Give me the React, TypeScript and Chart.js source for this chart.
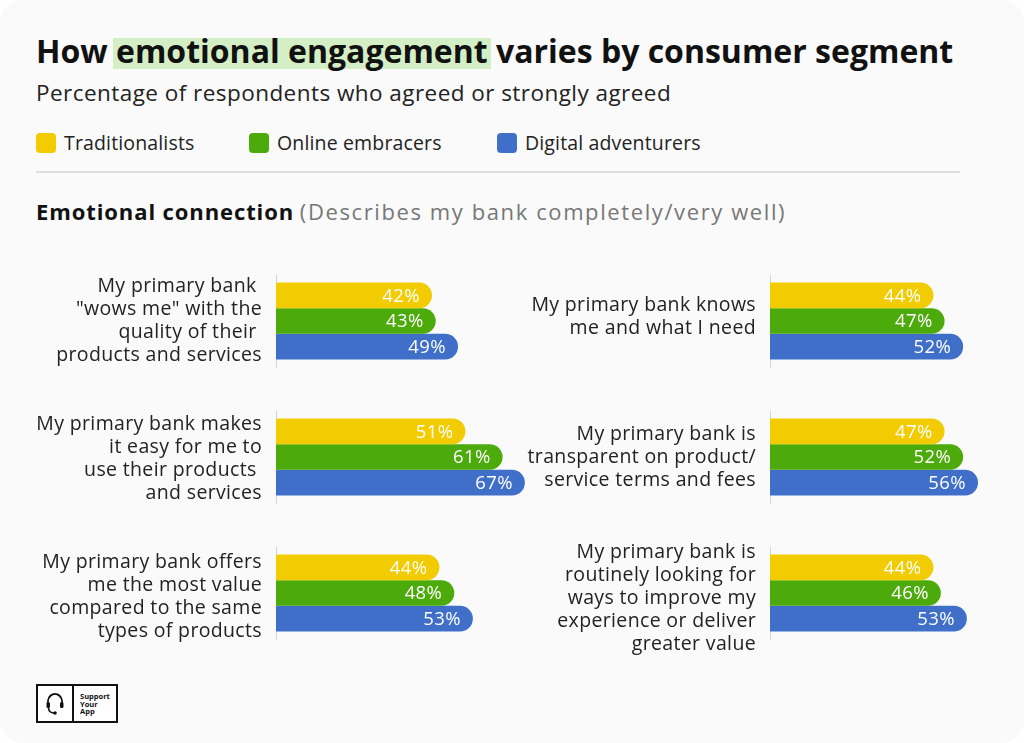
import React, { useEffect, useRef } from "react";
import { Chart, registerables } from "chart.js";

Chart.register(...registerables);

const FONT = "'Open Sans', sans-serif";

const seriesNames = ["Traditionalists", "Online embracers", "Digital adventurers"];
const seriesColors = ["#F2CB00", "#4CAB0A", "#3F6FC8"];

const statements: string[][] = [
  ["My primary bank ", "\"wows me\" with the", "quality of their ", "products and services"],
  ["My primary bank knows", "me and what I need"],
  ["My primary bank makes", "it easy for me to", "use their products ", "and services"],
  ["My primary bank is", "transparent on product/", "service terms and fees"],
  ["My primary bank offers", "me the most value", "compared to the same", "types of products"],
  ["My primary bank is", "routinely looking for", "ways to improve my", "experience or deliver", "greater value"],
];

const traditionalists = [42, 44, 51, 47, 44, 44];
const onlineEmbracers = [43, 47, 61, 52, 48, 46];
const digitalAdventurers = [49, 52, 67, 56, 53, 53];

const xMin = 0;
const xMax = 70;

const letterSpacingPlugin = {
  id: "letterSpacing",
  beforeDraw(chart: any) {
    (chart.ctx as any).letterSpacing = "0.35px";
  },
};

const valueLabels = {
  id: "valueLabels",
  afterDatasetsDraw(chart: any) {
    const ctx = chart.ctx;
    ctx.save();
    (ctx as any).letterSpacing = "0.4px";
    ctx.fillStyle = "#ffffff";
    ctx.font = `500 18.5px ${FONT}`;
    ctx.textAlign = "right";
    ctx.textBaseline = "middle";
    chart.data.datasets.forEach((ds: any, i: number) => {
      chart.getDatasetMeta(i).data.forEach((el: any, j: number) => {
        ctx.fillText(`${ds.data[j]}%`, el.x - 12, el.y + 1);
      });
    });
    ctx.restore();
  },
};

function Panel({ idx, left, top, axisWidth, labelShift }: { idx: number; left: number; top: number; axisWidth: number; labelShift: number }) {
  const ref = useRef<HTMLCanvasElement>(null);
  const width = axisWidth + 260;
  const height = 136;
  useEffect(() => {
    const values = [traditionalists[idx], onlineEmbracers[idx], digitalAdventurers[idx]];
    const chart = new Chart(ref.current as HTMLCanvasElement, {
      type: "bar",
      data: {
        labels: [statements[idx]],
        datasets: seriesNames.map((name, i) => ({
          label: name,
          data: [values[i]],
          backgroundColor: seriesColors[i],
          borderRadius: 13,
          borderSkipped: "start",
          categoryPercentage: 0.837,
          barPercentage: 1,
        })),
      } as any,
      options: {
        indexAxis: "y",
        responsive: false,
        animation: false,
        layout: { padding: { top: 22, bottom: 22, left: 0, right: 0 } },
        plugins: { legend: { display: false }, tooltip: { enabled: false } },
        scales: {
          x: { display: false, min: xMin, max: xMax },
          y: {
            grid: { display: false, drawTicks: false },
            border: { display: true, color: "#d4d4d4", width: 1 },
            ticks: {
              color: "#222222",
              padding: 14,
              labelOffset: labelShift,
              font: { family: FONT, size: 19.5, lineHeight: "23px" },
            },
            afterFit: (s: any) => {
              s.width = axisWidth;
              s.paddingTop = 0;
              s.paddingBottom = 0;
              s.paddingLeft = 0;
              s.paddingRight = 0;
            },
          },
        },
      } as any,
      plugins: [letterSpacingPlugin, valueLabels],
    });
    return () => chart.destroy();
  }, []);
  return (
    <canvas
      ref={ref}
      width={width}
      height={height}
      style={{ position: "absolute", left, top, width, height }}
    />
  );
}

export default function App() {
  const panelTops = [253, 389, 525];
  const labelShifts = [0, -4.5, 1.5, 0, 3.5, 5];
  return (
    <div
      style={{
        position: "fixed",
        left: 0,
        top: 0,
        width: 1024,
        height: 743,
        background: "#ffffff",
        overflow: "hidden",
        fontFamily: FONT,
      }}
    >
      <div
        style={{
          position: "absolute",
          left: 0,
          top: 0,
          width: 1024,
          height: 743,
          background: "#fafafa",
          borderRadius: 22,
        }}
      />
      <div
        style={{
          position: "absolute",
          left: 36,
          top: 31,
          fontSize: 32,
          fontWeight: 700,
          lineHeight: "40px",
          color: "#111",
          whiteSpace: "nowrap",
        }}
      >
        How{" "}
        <span
          style={{
            backgroundImage: "linear-gradient(#d4efc5, #d4efc5)",
            backgroundSize: "100% 31px",
            backgroundPosition: "0 9px",
            backgroundRepeat: "no-repeat",
            padding: "0 3px",
            margin: "0 -3px",
          }}
        >
          emotional engagement
        </span>{" "}
        varies by consumer segment
      </div>
      <div
        style={{
          position: "absolute",
          left: 36,
          top: 79,
          fontSize: 22.5,
          letterSpacing: "0.45px",
          lineHeight: "28px",
          color: "#222",
          whiteSpace: "nowrap",
        }}
      >
        Percentage of respondents who agreed or strongly agreed
      </div>
      {seriesNames.map((name, i) => {
        const lefts = [36, 249, 497];
        return (
          <div key={name} style={{ position: "absolute", left: lefts[i], top: 133, display: "flex", alignItems: "center" }}>
            <div style={{ width: 20, height: 20, borderRadius: 4, background: seriesColors[i] }} />
            <div style={{ marginLeft: 8, fontSize: 19.5, letterSpacing: "0.15px", lineHeight: "20px", color: "#222", whiteSpace: "nowrap" }}>{name}</div>
          </div>
        );
      })}
      <div style={{ position: "absolute", left: 36, top: 171, width: 924, height: 2, background: "#dedede" }} />
      <div
        style={{
          position: "absolute",
          left: 36,
          top: 198,
          fontSize: 22,
          lineHeight: "26px",
          whiteSpace: "nowrap",
        }}
      >
        <span style={{ fontWeight: 700, color: "#111", letterSpacing: "0.9px" }}>Emotional connection</span>{" "}
        <span style={{ color: "#777", letterSpacing: "1.6px" }}>(Describes my bank completely/very well)</span>
      </div>
      {panelTops.map((t, r) => (
        <React.Fragment key={r}>
          <Panel idx={r * 2} left={30} top={t} axisWidth={246} labelShift={labelShifts[r * 2]} />
          <Panel idx={r * 2 + 1} left={520} top={t} axisWidth={250} labelShift={labelShifts[r * 2 + 1]} />
        </React.Fragment>
      ))}
      <div
        style={{
          position: "absolute",
          left: 36,
          top: 684,
          width: 82,
          height: 39,
          border: "2px solid #111",
          boxSizing: "border-box",
          display: "flex",
          background: "#fff",
        }}
      >
        <div
          style={{
            width: 34,
            borderRight: "2px solid #111",
            display: "flex",
            alignItems: "center",
            justifyContent: "center",
          }}
        >
          <svg width="22" height="26" viewBox="0 0 22 26">
            <path d="M5 15 A7 8 0 1 1 17 15" fill="none" stroke="#111" strokeWidth="2" />
            <rect x="2.5" y="11" width="3.5" height="6" rx="1.5" fill="#111" />
            <rect x="16" y="11" width="3.5" height="6" rx="1.5" fill="#111" />
            <path d="M4.5 17 Q5 22 10 22" fill="none" stroke="#111" strokeWidth="1.6" />
            <circle cx="11" cy="22" r="1.8" fill="#111" />
          </svg>
        </div>
        <div
          style={{
            fontSize: 7.5,
            fontWeight: 700,
            lineHeight: "7.5px",
            padding: "7px 0 0 6px",
            color: "#111",
          }}
        >
          Support
          <br />
          Your
          <br />
          App
        </div>
      </div>
    </div>
  );
}
